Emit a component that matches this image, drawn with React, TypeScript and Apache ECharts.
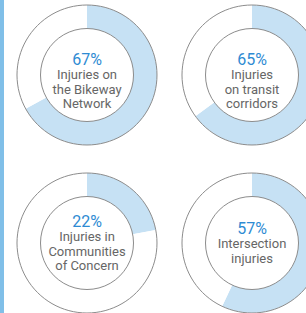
import React, { useEffect, useRef } from "react";
import * as echarts from "echarts";

const percents = [67, 65, 22, 57];
const labels = [
  ["Injuries on", "the Bikeway", "Network"],
  ["Injuries", "on transit", "corridors"],
  ["Injuries in", "Communities", "of Concern"],
  ["Intersection", "injuries"],
];
const centers: [number, number][] = [
  [87, 75],
  [252, 75],
  [87, 243],
  [252, 243],
];
const textTops = [50.5, 50.5, 212.5, 219.5];

const FONT = "Roboto, 'Liberation Sans Narrow', sans-serif";

export default function App() {
  const ref = useRef<HTMLDivElement>(null);
  useEffect(() => {
    document.body.style.margin = "0";
    const chart = echarts.init(ref.current!, null, { renderer: "svg" });
    const series: any[] = [];
    const titles: any[] = [];
    percents.forEach((p, i) => {
      series.push({
        type: "pie",
        center: centers[i],
        radius: [46.5, 70],
        startAngle: 90,
        clockwise: true,
        silent: true,
        label: { show: false },
        labelLine: { show: false },
        emphasis: { disabled: true },
        data: [
          { value: p, itemStyle: { color: "#c6e1f4" } },
          { value: 100 - p, itemStyle: { color: "#ffffff" } },
        ],
      });
      series.push({
        type: "pie",
        center: centers[i],
        radius: [46.5, 70],
        silent: true,
        label: { show: false },
        labelLine: { show: false },
        emphasis: { disabled: true },
        itemStyle: { color: "rgba(0,0,0,0)", borderColor: "#8c8c8c", borderWidth: 1 },
        data: [{ value: 1 }],
      });
      const lines = labels[i].map((l) => `{t|${l}}`).join("\n");
      titles.push({
        text: `{p|${p}%}\n${lines}`,
        left: centers[i][0],
        top: textTops[i],
        textAlign: "center",
        padding: 0,
        textStyle: {
          fontWeight: "normal",
          rich: {
            p: { fontFamily: FONT, fontSize: 16, fontWeight: "normal", color: "#2e8bd3", lineHeight: 17, align: "center" },
            t: { fontFamily: FONT, fontSize: 13, fontWeight: "normal", color: "#666666", lineHeight: 14.5, align: "center" },
          },
        },
      });
    });
    chart.setOption({
      animation: false,
      backgroundColor: "#ffffff",
      title: titles,
      graphic: [
        { type: "rect", left: 0, top: 0, shape: { x: 0, y: 0, width: 4, height: 313 }, style: { fill: "#80bfe8" } },
      ],
      series,
    });
    return () => chart.dispose();
  }, []);
  return <div ref={ref} style={{ width: 306, height: 313 }} />;
}
